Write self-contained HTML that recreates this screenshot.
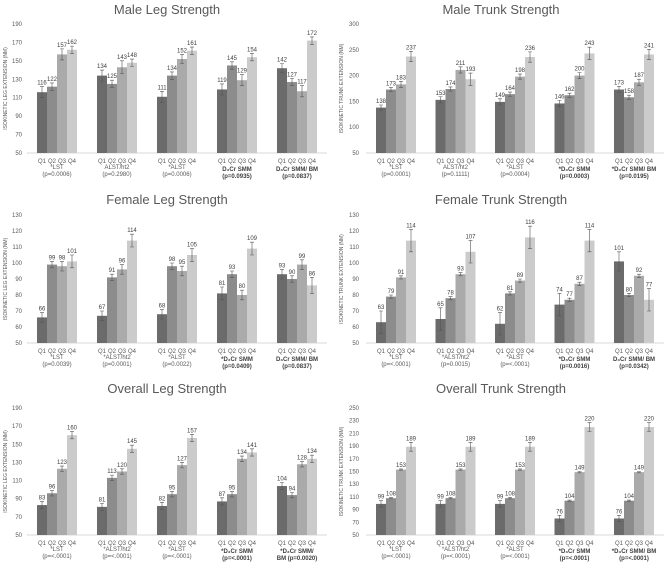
<!DOCTYPE html>
<html><head><meta charset="utf-8"><style>
html,body{margin:0;padding:0;background:#fff}
svg{display:block;font-family:"Liberation Sans",sans-serif}
</style></head><body>
<svg id="c" width="668" height="570" viewBox="0 0 668 570"></svg>
<script>
const quartiles=["Q1","Q2","Q3","Q4"];
const titles=["Male Leg Strength","Male Trunk Strength","Female Leg Strength","Female Trunk Strength","Overall Leg Strength","Overall Trunk Strength"];
const yTitles=["ISOKINETIC LEG EXTENSION (NM)","ISOKINETIC TRUNK EXTENSION (NM)","ISOKINETIC LEG EXTENSION (NM)","ISOKINETIC TRUNK EXTENSION (NM)","ISOKINETIC LEG EXTENSION (NM)","ISOKINETIC TRUNK EXTENSION (NM)"];
const ticks0=[50,70,90,110,130,150,170,190];
const ticks1=[50,100,150,200,250,300];
const ticks2=[50,60,70,80,90,100,110,120,130];
const ticks3=[50,60,70,80,90,100,110,120,130];
const ticks4=[50,70,90,110,130,150,170,190];
const ticks5=[50,70,90,110,130,150,170,190,210,230,250];
const vals0=[[116,122,157,162],[134,125,143,148],[111,134,152,161],[119,145,129,154],[142,127,117,172]];
const vals1=[[138,173,183,237],[153,174,211,193],[149,164,198,236],[146,162,200,243],[173,158,187,241]];
const vals2=[[66,99,98,101],[67,91,96,114],[68,98,95,105],[81,93,80,109],[93,90,99,86]];
const vals3=[[63,79,91,114],[65,78,93,107],[62,81,89,116],[74,77,87,114],[101,80,92,77]];
const vals4=[[83,96,123,160],[81,113,120,145],[82,95,127,157],[87,95,134,141],[104,94,128,134]];
const vals5=[[99,108,153,189],[99,108,153,189],[99,108,153,189],[76,104,149,220],[76,104,149,220]];
const errs0=[[6,4,6,4],[6,4,7,4],[6,4,5,4],[6,4,6,4],[5,4,6,4]];
const errs1=[[5,4,6,10],[6,4,6,12],[6,4,5,10],[6,4,6,12],[6,4,6,10]];
const errs2=[[3,2,3,4],[3,2,3,4],[3,2,3,4],[4,2,3,4],[3,2,3,5]];
const errs3=[[7,1,1,7],[7,1,1,7],[7,1,1,7],[7,1,1,7],[6,1,1,7]];
const errs4=[[4,3,3,4],[4,3,3,4],[4,3,3,4],[4,3,3,4],[4,3,3,4]];
const errs5=[[5,1,1,7],[5,1,1,7],[5,1,1,7],[5,1,1,7],[5,1,1,7]];
const groups0=[["*LST","(p=0.0006)"],["ALST/ht2","(p=0.2980)"],["*ALST","(p=0.0006)"],["D₃Cr SMM","(p=0.0935)"],["D₃Cr SMM/ BM","(p=0.0837)"]];
const groups1=[["*LST","(p=0.0001)"],["ALST/ht2","(p=0.1111)"],["*ALST","(p=0.0004)"],["*D₃Cr SMM","(p=0.0003)"],["*D₃Cr SMM/ BM","(p=0.0195)"]];
const groups2=[["*LST","(p=0.0039)"],["*ALST/ht2","(p=0.0001)"],["*ALST","(p=0.0022)"],["*D₃Cr SMM","(p=0.0409)"],["D₃Cr SMM/ BM","(p=0.0837)"]];
const groups3=[["*LST","(p=<.0001)"],["*ALST/ht2","(p=0.0015)"],["*ALST","(p=<.0001)"],["*D₃Cr SMM","(p=0.0016)"],["D₃Cr SMM/ BM","(p=0.0342)"]];
const groups4=[["*LST","(p=<.0001)"],["*ALST/ht2","(p=<.0001)"],["*ALST","(p=<.0001)"],["*D₃Cr SMM","(p=<.0001)"],["*D₃Cr SMM/","BM (p=0.0020)"]];
const groups5=[["*LST","(p=<.0001)"],["*ALST/ht2","(p=<.0001)"],["*ALST","(p=<.0001)"],["*D₃Cr SMM","(p=<.0001)"],["*D₃Cr SMM/ BM","(p=<.0001)"]];

const allTicks=[ticks0,ticks1,ticks2,ticks3,ticks4,ticks5];
const allVals=[vals0,vals1,vals2,vals3,vals4,vals5];
const allErrs=[errs0,errs1,errs2,errs3,errs4,errs5];
const allGroups=[groups0,groups1,groups2,groups3,groups4,groups5];
const layout=[
 {x0:0,top:24,bot:153,tx:22,cx0:57,step:60,ty:14,ax:7},
 {x0:334,top:24,bot:153,tx:359,cx0:396,step:59.5,ty:14,ax:343},
 {x0:0,top:215,bot:343,tx:22,cx0:57,step:60,ty:204,ax:7},
 {x0:334,top:215,bot:343,tx:359,cx0:396,step:59.5,ty:204,ax:343},
 {x0:0,top:408,bot:535,tx:22,cx0:57,step:60,ty:393,ax:7},
 {x0:334,top:408,bot:535,tx:359,cx0:396,step:59.5,ty:393,ax:343}
];
const colors=["#6b6b6b","#8c8c8c","#aaaaaa","#cbcbcb"];
const svg=document.getElementById('c');
const NS="http://www.w3.org/2000/svg";
function mk(tag,attrs,parent){const e=document.createElementNS(NS,tag);for(const k in attrs)e.setAttribute(k,attrs[k]);parent.appendChild(e);return e;}
const bw=10;
for(let p=0;p<6;p++){
 const L=layout[p],ticks=allTicks[p],vals=allVals[p],errs=allErrs[p],groups=allGroups[p];
 const g=mk('g',{},svg);
 
 
 const mn=ticks[0],mx=ticks[ticks.length-1];
 const y=v=>L.bot-(v-mn)/(mx-mn)*(L.bot-L.top);
 const t=mk('text',{x:L.x0+167,y:L.ty,'text-anchor':'middle','font-size':13,fill:'#595959'},g);
 t.textContent=titles[p];
 
 
 ticks.forEach(v=>{
  const tl=mk('text',{x:L.tx,y:y(v)+2,'text-anchor':'end','font-size':6,fill:'#595959'},g);
  tl.textContent=v;
  
  
 });
 const midY=(L.top+L.bot)/2;
 const yt=mk('text',{x:L.ax,y:midY,'text-anchor':'middle','font-size':5,fill:'#595959',transform:`rotate(-90 ${L.ax} ${midY})`},g);
 yt.textContent=yTitles[p];
 
 
 const axl=mk('line',{x1:L.cx0-30,x2:L.cx0+4*L.step+30,y1:L.bot,y2:L.bot,stroke:'#d9d9d9','stroke-width':1},g);
 
 
 vals.forEach((grp,gi)=>{
  const cx=L.cx0+gi*L.step;
  grp.forEach((v,qi)=>{
   const bx=cx-20+qi*bw;
   const r=mk('rect',{x:bx,y:y(v),width:bw,height:L.bot-y(v),fill:colors[qi]},g);
   
   
   const e=errs[gi][qi],mxb=bx+bw/2;
   const eb=mk('path',{d:`M${mxb} ${y(v+e)}V${y(v-e)}M${mxb-2} ${y(v+e)}H${mxb+2}M${mxb-2} ${y(v-e)}H${mxb+2}`,stroke:'#555','stroke-width':0.6,fill:'none'},g);
   
   
   const vl=mk('text',{x:mxb,y:y(v+e)-2,'text-anchor':'middle','font-size':6,fill:'#404040'},g);
   vl.textContent=v;
   
   
   const ql=mk('text',{x:mxb,y:L.bot+10,'text-anchor':'middle','font-size':6,fill:'#595959'},g);
   ql.textContent=quartiles[qi];
   
   
  });
  const bold=groups[gi][0].indexOf('D₃Cr')>=0;
  [0,1].forEach(li=>{
   const gl=mk('text',{x:cx,y:L.bot+(bold?18:16)+li*7,'text-anchor':'middle','font-size':6,fill:bold?'#404040':'#595959','font-weight':bold?'bold':'normal'},g);
   gl.textContent=groups[gi][li];
   
   
  });
 });
}
</script>
</body></html>
